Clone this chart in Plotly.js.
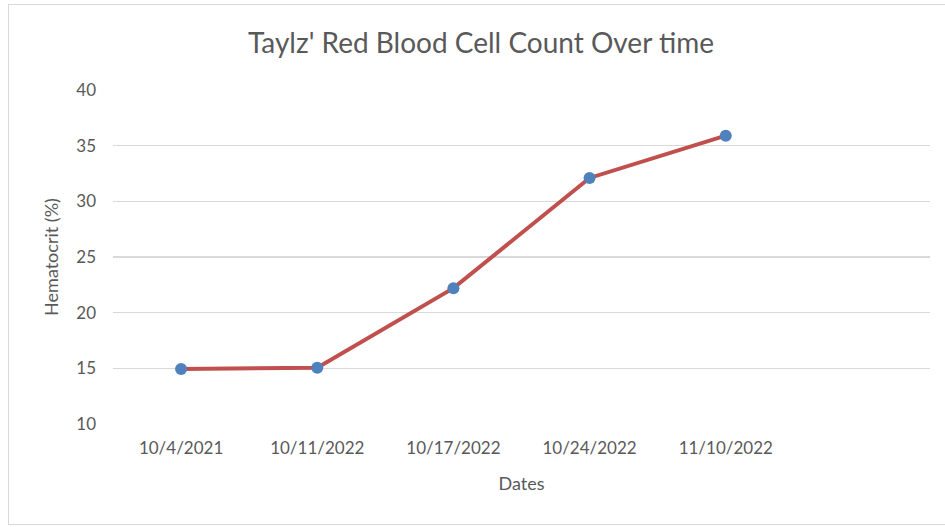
<!DOCTYPE html>
<html>
<head>
<meta charset="utf-8">
<script src="https://cdn.plot.ly/plotly-3.0.1.min.js"></script>
<style>
html,body{margin:0;padding:0;background:#fff;}
#chart{width:945px;height:527px;}
#frame{position:absolute;left:8px;top:4px;width:945px;height:521px;border:1px solid #d9d9d9;pointer-events:none;box-sizing:border-box;}
</style>
</head>
<body>
<div id="chart"></div>
<div id="frame"></div>
<script>
const dates = ["10/4/2021", "10/11/2022", "10/17/2022", "10/24/2022", "11/10/2022"];
const hematocrit = [14.95, 15.05, 22.2, 32.1, 35.9];
const yTicks = [10, 15, 20, 25, 30, 35, 40];

const font = "Lato, 'Open Sans', sans-serif";
const trace = {
  x: dates,
  y: hematocrit,
  type: "scatter",
  mode: "lines+markers",
  line: {color: "#C0504D", width: 4},
  marker: {color: "#4F81BD", size: 12},
  hoverinfo: "x+y"
};
const layout = {
  width: 945, height: 527,
  margin: {l: 113, r: 15, t: 90, b: 103},
  paper_bgcolor: "#fff", plot_bgcolor: "#fff",
  showlegend: false,
  title: {text: "Taylz' Red Blood Cell Count Over time", font: {family: font, size: 28, color: "#595959"}, x: 0.509, xanchor: "center", y: 0.918, yanchor: "middle"},
  xaxis: {
    type: "category",
    range: [-0.5, 5.5],
    showgrid: false, zeroline: false, showline: false, ticks: "",
    ticklabelstandoff: 12,
    tickfont: {family: font, size: 17, color: "#595959"},
    title: {text: "Dates", font: {family: font, size: 18, color: "#595959"}, standoff: 20}
  },
  yaxis: {
    range: [10, 40],
    tickvals: yTicks,
    showgrid: true, gridcolor: "#d9d9d9", gridwidth: 1.3,
    zeroline: false, showline: false, ticks: "",
    ticklabelstandoff: 16,
    tickfont: {family: font, size: 17, color: "#595959"},
    title: {text: "Hematocrit (%)", font: {family: font, size: 18, color: "#595959"}, standoff: 12}
  }
};
Plotly.newPlot("chart", [trace], layout, {displayModeBar: false, staticPlot: true});
</script>
</body>
</html>
